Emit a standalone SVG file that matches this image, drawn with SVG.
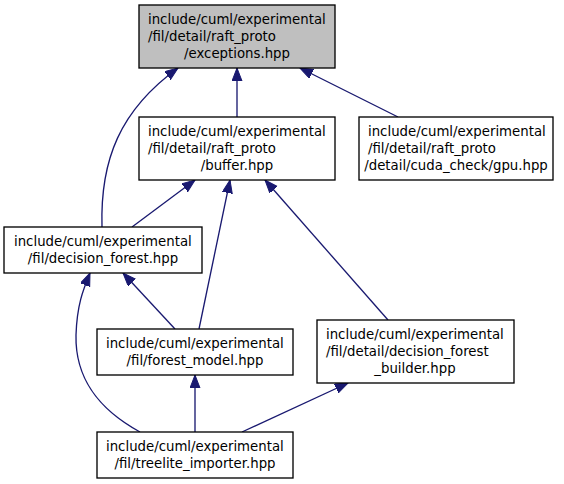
<svg xmlns="http://www.w3.org/2000/svg" width="564" height="484" viewBox="0 0 564 484">
<style>
.box{fill:#ffffff;stroke:#000000;stroke-width:1.33}
.root{fill:#bfbfbf;stroke:#000000;stroke-width:1.33}
text{font-family:"DejaVu Sans",sans-serif;font-size:13.3px;fill:#000000}
.c{text-anchor:middle}
.e{fill:none;stroke:#191970;stroke-width:1.33;marker-end:url(#ah)}
</style>
<defs>
<marker id="ah" markerUnits="userSpaceOnUse" markerWidth="16" markerHeight="12" refX="13" refY="5" orient="auto" viewBox="0 0 16 12">
<path d="M0,0 L13,5 L0,10 z" fill="#191970" stroke="#191970"/>
</marker>
</defs>
<rect width="564" height="484" fill="#ffffff"/>
<g id="edges">
<path class="e" d="M237,117 L237,68"/>
<path class="e" d="M398,117 L300,68"/>
<path class="e" d="M102,227 C100,160 120,110 178,68"/>
<path class="e" d="M132,227 L195,180"/>
<path class="e" d="M199,329 L230,180"/>
<path class="e" d="M388,320 L265,180"/>
<path class="e" d="M175,329 L123,273"/>
<path class="e" d="M140,432 C100,410 75,380 76,335 C77,305 83,290 90,273"/>
<path class="e" d="M195,432 L195,375"/>
<path class="e" d="M242,432 L348,383"/>
</g>
<g id="exceptions">
<rect class="root" x="139" y="5" width="196" height="63"/>
<text x="148" y="24">include/cuml/experimental</text>
<text x="148" y="41">/fil/detail/raft_proto</text>
<text class="c" x="237" y="58">/exceptions.hpp</text>
</g>
<g id="buffer">
<rect class="box" x="139" y="117" width="196" height="63"/>
<text x="148" y="136">include/cuml/experimental</text>
<text x="148" y="153">/fil/detail/raft_proto</text>
<text class="c" x="237" y="170">/buffer.hpp</text>
</g>
<g id="gpu">
<rect class="box" x="359" y="117" width="194" height="63"/>
<text x="368" y="136">include/cuml/experimental</text>
<text x="368" y="153">/fil/detail/raft_proto</text>
<text class="c" x="456" y="170">/detail/cuda_check/gpu.hpp</text>
</g>
<g id="decision_forest">
<rect class="box" x="4" y="227" width="198" height="46"/>
<text x="14" y="246">include/cuml/experimental</text>
<text class="c" x="103" y="263">/fil/decision_forest.hpp</text>
</g>
<g id="forest_model">
<rect class="box" x="97" y="329" width="196" height="46"/>
<text x="106" y="348">include/cuml/experimental</text>
<text class="c" x="195" y="365">/fil/forest_model.hpp</text>
</g>
<g id="decision_forest_builder">
<rect class="box" x="317" y="320" width="197" height="63"/>
<text x="326" y="339">include/cuml/experimental</text>
<text x="326" y="356">/fil/detail/decision_forest</text>
<text class="c" x="415" y="373">_builder.hpp</text>
</g>
<g id="treelite_importer">
<rect class="box" x="97" y="432" width="196" height="46"/>
<text x="106" y="451">include/cuml/experimental</text>
<text class="c" x="195" y="468">/fil/treelite_importer.hpp</text>
</g>
</svg>
